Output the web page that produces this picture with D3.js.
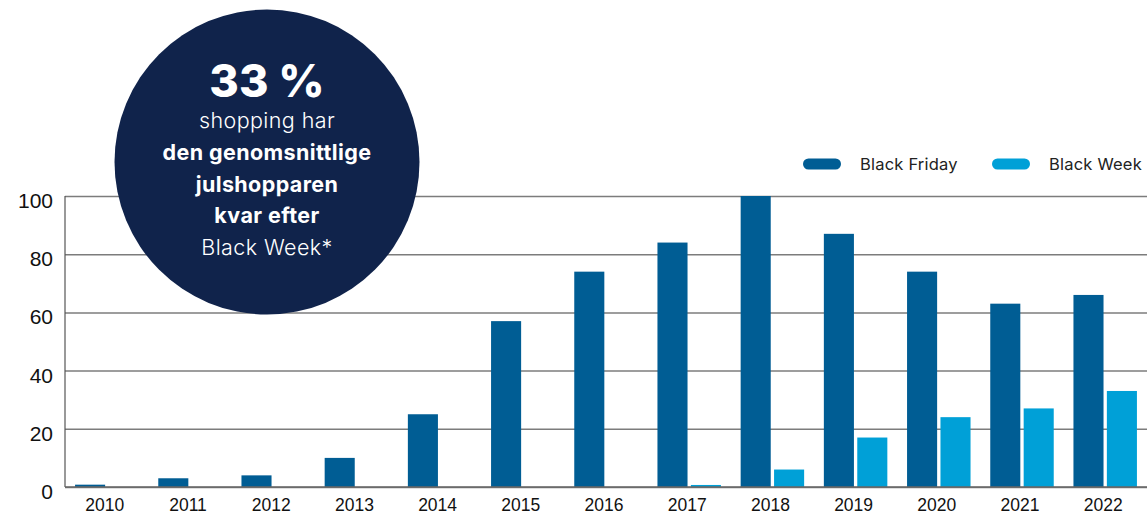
<!DOCTYPE html>
<html>
<head>
<meta charset="utf-8">
<script src="https://cdn.jsdelivr.net/npm/d3@7"></script>
<style>
  body { margin: 0; background: #fff; }
  svg { display: block; }
</style>
</head>
<body>
<svg id="chart" width="1147" height="514"></svg>
<script>
// Share of shoppers, by year
const years = ["2010","2011","2012","2013","2014","2015","2016","2017","2018","2019","2020","2021","2022"];
const blackFriday = [0.8, 3, 4, 10, 25, 57, 74, 84, 100, 87, 74, 63, 66];
const blackWeek   = [0, 0, 0, 0, 0, 0, 0, 0.7, 6, 17, 24, 27, 33];
const seriesNames = ["Black Friday", "Black Week"];
const seriesColors = ["#005d94", "#00a0d7"];
const yTicks = [0, 20, 40, 60, 80, 100];

// Callout bubble text
const calloutHeadline = "33 %";
const calloutLines = [
  { text: "shopping har", bold: false },
  { text: "den genomsnittlige", bold: true },
  { text: "julshopparen", bold: true },
  { text: "kvar efter", bold: true },
  { text: "Black Week*", bold: false }
];

const W = 1147, H = 514;
const margin = { left: 65, right: 0, top: 196, bottom: 27 };
const svg = d3.select("#chart");
const bubbleFont = "Inter, 'Noto Sans', sans-serif";

const x0 = d3.scaleBand()
  .domain(years)
  .range([margin.left, W - margin.right])
  .paddingInner(0.237)
  .paddingOuter(0.121);

const x1 = d3.scaleBand()
  .domain(seriesNames)
  .range([0, x0.bandwidth()])
  .paddingInner(0.1);

const y = d3.scaleLinear()
  .domain([0, 100])
  .range([H - margin.bottom, margin.top]);

const color = d3.scaleOrdinal().domain(seriesNames).range(seriesColors);

// Horizontal grid lines
const grid = svg.append("g")
  .attr("transform", `translate(${margin.left},0)`)
  .call(d3.axisLeft(y).tickValues(yTicks).tickSize(-(W - margin.left)).tickFormat(""));
grid.select(".domain").remove();
grid.selectAll(".tick line").attr("stroke", "#7c7c7c").attr("stroke-width", 1.5);

// Vertical axis line
svg.append("line")
  .attr("x1", margin.left).attr("x2", margin.left)
  .attr("y1", y(100)).attr("y2", y(0))
  .attr("stroke", "#555").attr("stroke-width", 1.2);

// Y tick labels
svg.append("g").selectAll("text")
  .data(yTicks)
  .join("text")
  .attr("x", 53)
  .attr("y", d => y(d) + 12)
  .attr("text-anchor", "end")
  .attr("font-family", "Liberation Sans, Arial, sans-serif")
  .attr("font-size", 21)
  .attr("fill", "#111")
  .text(d => d);

// Callout bubble (sits above grid)
const bubble = svg.append("g");
bubble.append("circle")
  .attr("cx", 267).attr("cy", 162).attr("r", 152.5)
  .attr("fill", "#10234b");
bubble.append("text")
  .attr("x", 267).attr("y", 97)
  .attr("text-anchor", "middle")
  .attr("font-family", bubbleFont)
  .attr("font-weight", 800)
  .attr("font-size", 45)
  .attr("fill", "#fff")
  .text(calloutHeadline);
bubble.selectAll("text.line")
  .data(calloutLines)
  .join("text")
  .attr("class", "line")
  .attr("x", 267)
  .attr("y", (d, i) => 128 + i * 31.8)
  .attr("text-anchor", "middle")
  .attr("font-family", bubbleFont)
  .attr("font-weight", d => d.bold ? 700 : 300)
  .attr("font-size", 21.5)
  .attr("letter-spacing", 0.4)
  .attr("fill", "#fff")
  .text(d => d.text);

// Bars
const groups = svg.append("g").selectAll("g")
  .data(years.map((yr, i) => ({ year: yr, values: [blackFriday[i], blackWeek[i]] })))
  .join("g")
  .attr("transform", d => `translate(${x0(d.year)},0)`);

groups.selectAll("rect")
  .data(d => d.values.map((v, j) => ({ key: seriesNames[j], value: v })))
  .join("rect")
  .attr("x", d => x1(d.key))
  .attr("width", x1.bandwidth())
  .attr("y", d => y(d.value))
  .attr("height", d => y(0) - y(d.value))
  .attr("fill", d => color(d.key));

// Baseline
svg.append("line")
  .attr("x1", margin.left).attr("x2", W)
  .attr("y1", y(0)).attr("y2", y(0))
  .attr("stroke", "#666").attr("stroke-width", 1.5);

// X tick labels
const xAxis = svg.append("g")
  .attr("transform", `translate(0,${y(0)})`)
  .call(d3.axisBottom(x0).tickSize(0).tickPadding(0));
xAxis.select(".domain").remove();
xAxis.selectAll("text")
  .attr("y", 24)
  .attr("dy", 0)
  .attr("dx", -2)
  .attr("font-family", "Liberation Sans, Arial, sans-serif")
  .attr("font-size", 17.5)
  .attr("fill", "#111");

// Legend
const legend = svg.append("g").selectAll("g")
  .data(seriesNames)
  .join("g")
  .attr("transform", (d, i) => `translate(${[803, 992][i]},164)`);
legend.append("rect")
  .attr("x", 0).attr("y", -5.5)
  .attr("width", 38).attr("height", 11)
  .attr("rx", 5.5)
  .attr("fill", d => color(d));
legend.append("text")
  .attr("x", 57).attr("y", 6)
  .attr("font-family", bubbleFont)
  .attr("font-size", 16.5)
  .attr("letter-spacing", 0.2)
  .attr("fill", "#222")
  .text(d => d);
</script>
</body>
</html>
